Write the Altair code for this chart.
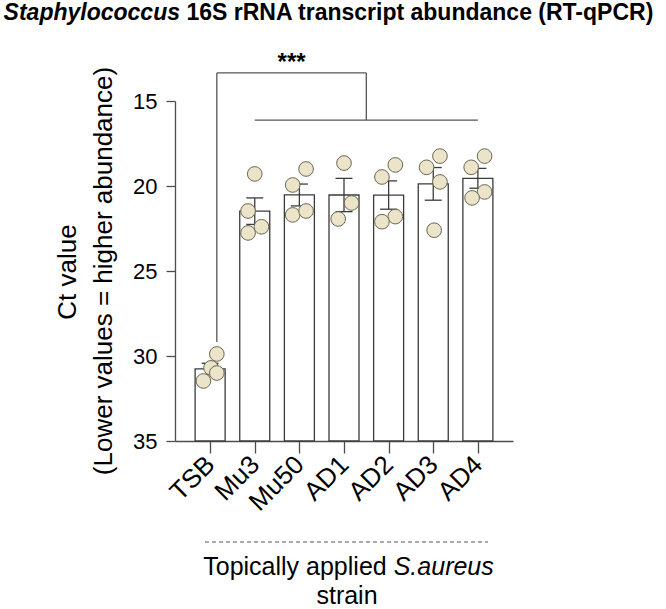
import altair as alt
import pandas as pd

# ---------------- data ----------------
categories = ["TSB", "Mu3", "Mu50", "AD1", "AD2", "AD3", "AD4"]

ct_values = {
    "TSB":  [29.88, 30.70, 31.00, 31.47],
    "Mu3":  [19.29, 21.47, 22.40, 22.76],
    "Mu50": [19.00, 19.94, 21.70, 21.47],
    "AD1":  [18.65, 21.00, 21.94],
    "AD2":  [18.76, 19.47, 21.80, 22.10],
    "AD3":  [18.24, 18.90, 19.76, 22.60],
    "AD4":  [18.24, 18.90, 20.35, 20.70],
}
# horizontal scatter of the replicate dots (in category units)
jitter = {
    "TSB":  [0.15, 0.02, 0.15, -0.15],
    "Mu3":  [0.00, -0.15, 0.15, -0.15],
    "Mu50": [0.15, -0.15, -0.15, 0.15],
    "AD1":  [0.00, 0.17, -0.13],
    "AD2":  [0.15, -0.15, 0.15, -0.15],
    "AD3":  [0.15, -0.15, 0.15, 0.02],
    "AD4":  [0.15, -0.15, 0.15, -0.13],
}
y_ticks = [15, 20, 25, 30, 35]

# significance bracket (x in category index units, y in Ct)
bracket_x = [0.15, 0.15, 3.5, 1.0]
bracket_x2 = [0.15, 3.5, 3.5, 6.0]
bracket_y = [29.18, 13.35, 13.35, 16.12]
bracket_y2 = [13.35, 13.35, 16.12, 16.12]
sig_label = "***"

# ---------------- tables ----------------
pts_rows, bar_rows, cap_rows = [], [], []
for i, c in enumerate(categories):
    vals = pd.Series(ct_values[c])
    for v, j in zip(ct_values[c], jitter[c]):
        pts_rows.append({"cat": c, "xi": i, "xj": i + j, "ct": v})
    m = vals.mean()
    sem = vals.std(ddof=1) / (len(vals) ** 0.5)
    bar_rows.append({"cat": c, "xi": i, "mean": m, "base": 35, "lo": m - sem, "hi": m + sem})
    cap_rows.append({"xi": i, "y": m - sem})
    cap_rows.append({"xi": i, "y": m + sem})
pts = pd.DataFrame(pts_rows)
bars = pd.DataFrame(bar_rows)
caps = pd.DataFrame(cap_rows)
brk = pd.DataFrame({"x": bracket_x, "x2": bracket_x2, "y": bracket_y, "y2": bracket_y2})
star = pd.DataFrame({"x": [(bracket_x[1] + bracket_x2[1]) / 2], "y": [bracket_y[1]], "t": [sig_label]})

FONT = "Liberation Sans"
AXC = "#4d4d4d"
label_js = "[" + ",".join("'" + c + "'" for c in categories) + "][datum.value]"

xscale = alt.Scale(domain=[-0.675, 6.675], nice=False, zero=False)
yscale = alt.Scale(domain=[15, 35], reverse=True, nice=False, zero=False)

xaxis = alt.Axis(values=list(range(len(categories))), labelExpr=label_js, title=None,
                 labelAngle=-45, labelAlign="right", labelBaseline="middle",
                 labelOverlap=False, labelFlush=False,
                 labelFontSize=26, labelFont=FONT, labelColor="black", labelPadding=7,
                 tickSize=12, tickColor=AXC, tickWidth=1.3, domainColor=AXC,
                 domainWidth=1.3, grid=False)
yaxis = alt.Axis(values=y_ticks, title=None, labelFontSize=22, labelFont=FONT,
                 labelColor="black", labelPadding=9, tickSize=9, tickColor=AXC,
                 labelOverlap=False, labelFlush=False,
                 tickWidth=1.3, domainColor=AXC, domainWidth=1.3, grid=False)


def X(field):
    return alt.X(field, type="quantitative", scale=xscale, axis=xaxis)


def Y(field):
    return alt.Y(field, type="quantitative", scale=yscale, axis=yaxis)


bar_layer = alt.Chart(bars).mark_bar(size=30, fill="white", stroke="#3a3a3a",
                                     strokeWidth=1.3, orient="vertical").encode(
    x=X("xi"), y=Y("mean"), y2="base")

err_layer = alt.Chart(bars).mark_rule(color="#3a3a3a", strokeWidth=1.3).encode(
    x=X("xi"), y=Y("lo"), y2="hi")

cap_layer = alt.Chart(caps).mark_rule(color="#3a3a3a", strokeWidth=1.3,
                                      xOffset=-8.5, x2Offset=8.5).encode(
    x=X("xi"), x2="xi", y=Y("y"))

pt_layer = alt.Chart(pts).mark_point(filled=True, shape="circle", size=215,
                                     fill="#ebe4c9", stroke="#6a6656",
                                     strokeWidth=1, opacity=1).encode(
    x=X("xj"), y=Y("ct"))

brk_layer = alt.Chart(brk).mark_rule(color="#555555", strokeWidth=1.3).encode(
    x=X("x"), x2="x2", y=Y("y"), y2="y2")

star_layer = alt.Chart(star).mark_text(fontSize=24, font=FONT, fontWeight="bold",
                                       baseline="alphabetic", dy=-3, color="black").encode(
    x=X("x"), y=Y("y"), text="t:N")


def label(text, x, y, size, weight="normal", style="normal", align="center", angle=0):
    return alt.Chart(pd.DataFrame({"t": [text]})).mark_text(
        fontSize=size, font=FONT, fontWeight=weight, fontStyle=style, align=align,
        baseline="alphabetic", angle=angle, color="black").encode(
        x=alt.value(x), y=alt.value(y), text="t:N")


texts = [
    label("Staphylococcus", 5, -81, 23, "bold", "italic", "right"),
    label("16S rRNA transcript abundance (RT-qPCR)", 11.4, -81, 23, "bold", "normal", "left"),
    label("Ct value", -99, 171, 26, angle=270),
    label("(Lower values = higher abundance)", -63, 170, 26, angle=270),
    label("Topically applied", 211.7, 474, 25, align="right"),
    label("S.aureus", 218.7, 474, 25, style="italic", align="left"),
    label("strain", 172, 503, 25),
]

dash = alt.Chart(pd.DataFrame({"a": [0]})).mark_rule(
    color="#555555", strokeWidth=1.2, strokeDash=[4, 3]).encode(
    x=alt.value(30), x2=alt.value(313), y=alt.value(441))

chart = alt.layer(bar_layer, err_layer, cap_layer, pt_layer, brk_layer, star_layer,
                  dash, *texts).properties(
    width=338, height=340,
    padding={"left": 175, "top": 101, "right": 153, "bottom": 168},
    autosize=alt.AutoSizeParams(type="none"),
).configure_view(stroke=None)

chart.save("out.html", embed_options={"renderer": "svg", "actions": False})
